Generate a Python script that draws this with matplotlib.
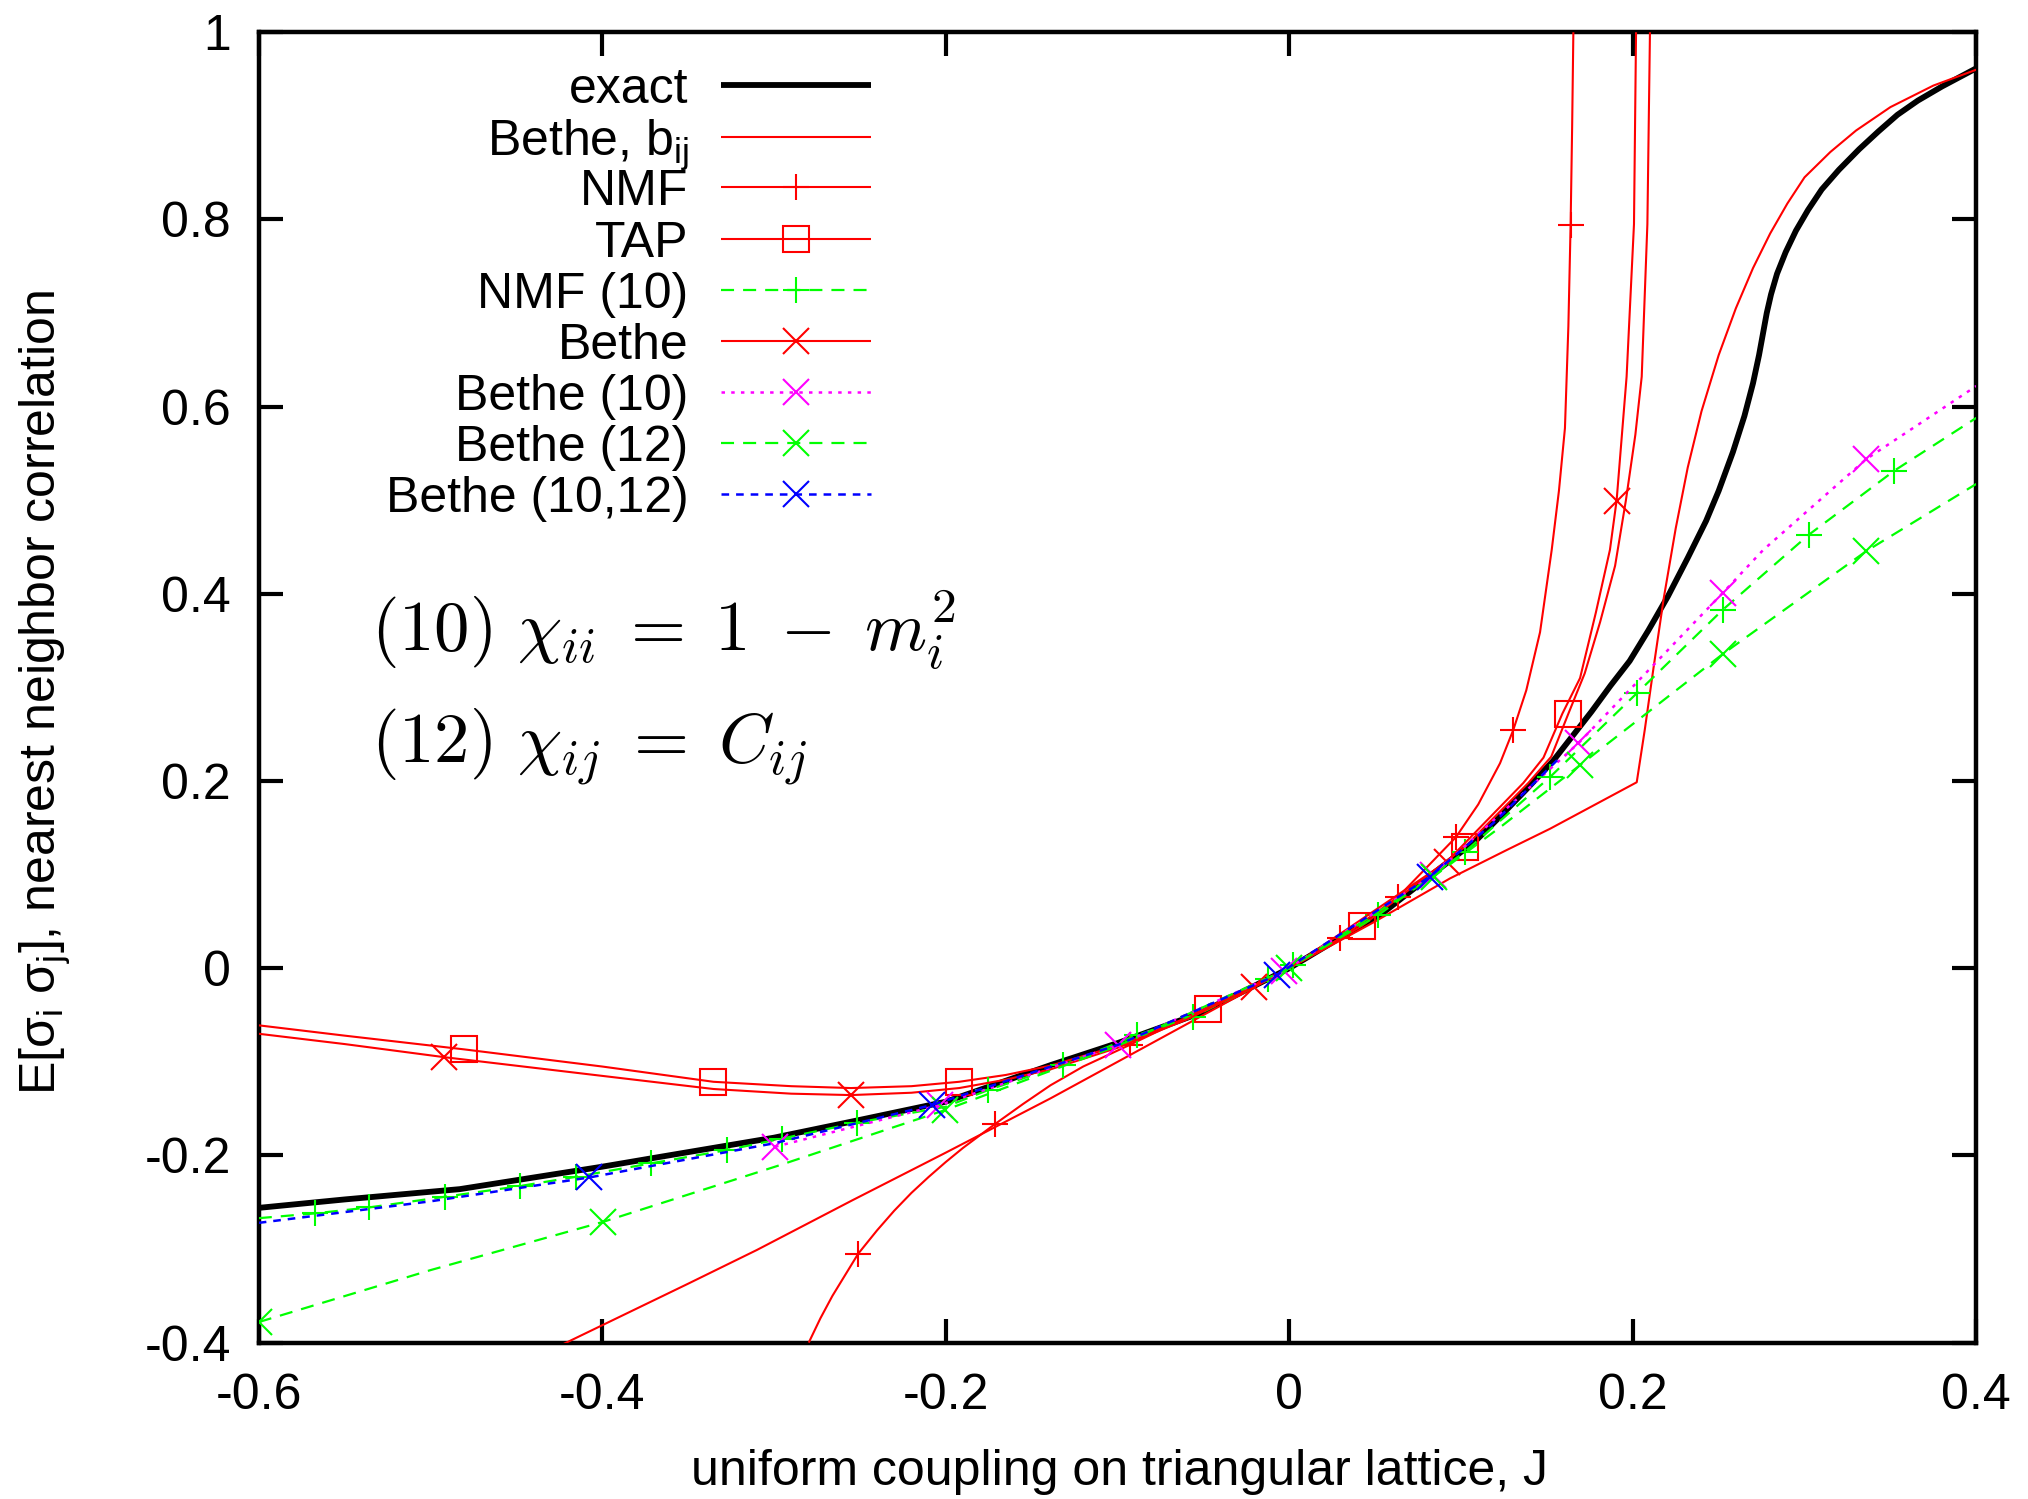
import matplotlib
matplotlib.use('Agg')
import matplotlib.pyplot as plt
from matplotlib.lines import Line2D

plt.rcParams['font.family'] = ['Liberation Sans', 'DejaVu Sans']
plt.rcParams['mathtext.fontset'] = 'custom'
plt.rcParams['mathtext.rm'] = 'Liberation Sans'
plt.rcParams['mathtext.it'] = 'Liberation Sans:italic'
plt.rcParams['mathtext.bf'] = 'Liberation Sans:bold'
plt.rcParams['lines.scale_dashes'] = False

# ---------------- data ----------------
exact_J = [-0.6, -0.55, -0.483, -0.4, -0.366, -0.3, -0.25, -0.2, -0.139, -0.1, -0.052, 0.0,
           0.029, 0.053, 0.084, 0.109, 0.1227, 0.138, 0.1536, 0.1759, 0.187, 0.1982, 0.209,
           0.2205, 0.232, 0.2427, 0.25, 0.2583, 0.265, 0.27, 0.2735, 0.276, 0.278, 0.2805,
           0.284, 0.289, 0.295, 0.302, 0.31, 0.32, 0.3318, 0.343, 0.3541, 0.366, 0.38, 0.4]
exact_C = [-0.256, -0.247, -0.236, -0.212, -0.2014, -0.181, -0.162, -0.1426, -0.1035, -0.080,
           -0.048, 0.0, 0.032, 0.057, 0.1014, 0.137, 0.162, 0.191, 0.2215, 0.274, 0.3018,
           0.3283, 0.3607, 0.3975, 0.4384, 0.478, 0.51, 0.5515, 0.59, 0.625, 0.655, 0.68,
           0.70, 0.72, 0.742, 0.765, 0.788, 0.81, 0.832, 0.853, 0.875, 0.894, 0.9118, 0.927,
           0.942, 0.9615]

bij_J = [-0.43, -0.35, -0.31, -0.2545, -0.2, -0.139, -0.1, -0.05, 0.0, 0.05, 0.0936, 0.1266,
         0.1518, 0.2023, 0.207, 0.212, 0.218, 0.225, 0.232, 0.24, 0.25, 0.26, 0.27, 0.28,
         0.29, 0.3, 0.315, 0.33, 0.35, 0.375, 0.4]
bij_C = [-0.408, -0.337, -0.301, -0.248, -0.197, -0.139, -0.100, -0.050, 0.0, 0.050, 0.096,
         0.1263, 0.149, 0.1987, 0.255, 0.32, 0.395, 0.47, 0.535, 0.595, 0.655, 0.705, 0.748,
         0.785, 0.817, 0.845, 0.872, 0.895, 0.92, 0.943, 0.96]

nmf_J = [-0.2798, -0.273, -0.266, -0.258, -0.251, -0.24, -0.23, -0.22, -0.21, -0.2, -0.19,
         -0.1714, -0.155, -0.139, -0.12, -0.093, -0.05, 0.0, 0.0296, 0.0635, 0.097, 0.11,
         0.1227, 0.1304, 0.138, 0.146, 0.1528, 0.157, 0.1605, 0.1625, 0.1638, 0.1647, 0.1654]
nmf_C = [-0.40, -0.374, -0.350, -0.326, -0.305, -0.280, -0.259, -0.240, -0.223, -0.207,
         -0.192, -0.1665, -0.145, -0.125, -0.105, -0.082, -0.044, 0.0, 0.032, 0.0764, 0.140,
         0.175, 0.219, 0.2545, 0.297, 0.359, 0.447, 0.51, 0.577, 0.686, 0.794, 0.9, 1.0]
nmf_mJ = [-0.251, -0.1714, -0.093, 0.0296, 0.0635, 0.097, 0.1304, 0.1638]
nmf_mC = [-0.305, -0.1665, -0.082, 0.032, 0.0764, 0.140, 0.2545, 0.794]

tap_J = [-0.6, -0.55, -0.4803, -0.4, -0.3353, -0.29, -0.2552, -0.22, -0.1922, -0.165, -0.139,
         -0.1, -0.0475, 0.0, 0.0422, 0.1023, 0.1392, 0.1525, 0.1625, 0.172, 0.181, 0.1897,
         0.196, 0.2015, 0.2052, 0.2085, 0.2100]
tap_C = [-0.061, -0.072, -0.0867, -0.105, -0.1213, -0.126, -0.128, -0.126, -0.1213, -0.114,
         -0.104, -0.083, -0.0439, 0.0, 0.0451, 0.1298, 0.198, 0.226, 0.272, 0.315, 0.37,
         0.43, 0.50, 0.57, 0.632, 0.795, 1.0]
tap_mJ = [-0.4803, -0.3353, -0.1922, -0.0475, 0.0422, 0.1023, 0.1625]
tap_mC = [-0.0867, -0.1213, -0.1213, -0.0439, 0.0451, 0.1298, 0.272]

nmf10_J = [-0.6, -0.5672, -0.5356, -0.4915, -0.4479, -0.4153, -0.3718, -0.3275, -0.2955,
           -0.2518, -0.2, -0.1752, -0.1316, -0.0888, -0.0559, -0.0122, 0.0023, 0.0518, 0.1023,
           0.152, 0.2023, 0.2524, 0.3024, 0.3523, 0.4]
nmf10_C = [-0.267, -0.2619, -0.2555, -0.2441, -0.2327, -0.2228, -0.2085, -0.1943, -0.182,
           -0.165, -0.148, -0.130, -0.1034, -0.0714, -0.0518, -0.012, 0.003, 0.0568, 0.1245,
           0.2046, 0.2937, 0.383, 0.463, 0.5316, 0.588]
nmf10_mJ = [-0.5672, -0.5356, -0.4915, -0.4479, -0.4153, -0.3718, -0.3275, -0.2955, -0.2518,
            -0.1752, -0.1316, -0.0888, -0.0559, -0.0122, 0.0023, 0.0518, 0.1023, 0.152,
            0.2023, 0.2524, 0.3024, 0.3523]
nmf10_mC = [-0.2619, -0.2555, -0.2441, -0.2327, -0.2228, -0.2085, -0.1943, -0.182, -0.165,
            -0.130, -0.1034, -0.0714, -0.0518, -0.012, 0.003, 0.0568, 0.1245, 0.2046, 0.2937,
            0.383, 0.463, 0.5316]

bethe_J = [-0.6, -0.55, -0.492, -0.4, -0.3353, -0.29, -0.2552, -0.22, -0.1922, -0.165, -0.139,
           -0.1, -0.06, -0.0207, 0.0, 0.0917, 0.1363, 0.148, 0.159, 0.1693, 0.1785, 0.1867,
           0.1906, 0.1964, 0.2007, 0.2019]
bethe_C = [-0.070, -0.081, -0.095, -0.115, -0.129, -0.134, -0.1355, -0.133, -0.128, -0.119,
           -0.108, -0.085, -0.055, -0.0198, 0.0, 0.1138, 0.198, 0.225, 0.272, 0.31, 0.38,
           0.447, 0.50, 0.632, 0.795, 1.0]
bethe_mJ = [-0.492, -0.2552, -0.0207, 0.0917, 0.1906]
bethe_mC = [-0.095, -0.1355, -0.0198, 0.1138, 0.4996]

b10_J = [-0.2994, -0.2033, -0.0995, -0.003, 0.0838, 0.1683, 0.2524, 0.276, 0.336, 0.4]
b10_C = [-0.1907, -0.146, -0.082, -0.003, 0.0996, 0.2403, 0.401, 0.447, 0.544, 0.622]
b10_mJ = [-0.2994, -0.2033, -0.0995, -0.003, 0.0838, 0.1683, 0.2524, 0.336]
b10_mC = [-0.1907, -0.146, -0.082, -0.003, 0.0996, 0.2403, 0.401, 0.544]

b12_J = [-0.6, -0.5, -0.3994, -0.296, -0.2004, -0.1, 0.0, 0.084, 0.1227, 0.1693, 0.2524,
         0.336, 0.4]
b12_C = [-0.378, -0.3225, -0.2709, -0.21, -0.1515, -0.083, 0.0, 0.098, 0.1505, 0.217, 0.3357,
         0.4457, 0.5174]
b12_mJ = [-0.6, -0.3994, -0.2004, 0.0, 0.084, 0.1693, 0.2524, 0.336]
b12_mC = [-0.378, -0.2709, -0.1515, 0.0, 0.098, 0.217, 0.3357, 0.4457]

b1012_J = [-0.6, -0.5, -0.4075, -0.3, -0.2082, -0.1, -0.0073, 0.0819, 0.12, 0.158]
b1012_C = [-0.272, -0.249, -0.2235, -0.187, -0.1462, -0.082, -0.0073, 0.0978, 0.157, 0.226]
b1012_mJ = [-0.4075, -0.2082, -0.0073, 0.0819]
b1012_mC = [-0.2235, -0.1462, -0.0073, 0.0978]

x_ticks = [-0.6, -0.4, -0.2, 0.0, 0.2, 0.4]
x_ticklabels = ['-0.6', '-0.4', '-0.2', '0', '0.2', '0.4']
y_ticks = [-0.4, -0.2, 0.0, 0.2, 0.4, 0.6, 0.8, 1.0]
y_ticklabels = ['-0.4', '-0.2', '0', '0.2', '0.4', '0.6', '0.8', '1']

labels = ['exact', r'Bethe, b$_{\mathrm{ij}}$', 'NMF', 'TAP', 'NMF (10)', 'Bethe',
          'Bethe (10)', 'Bethe (12)', 'Bethe (10,12)']

# ---------------- styling ----------------
RED = '#ff0000'
GREEN = '#00ff00'
MAG = '#ff00ff'
BLUE = '#0000ff'
GDASH = (0, (9.4, 6.5))
BDASH = (0, (5.5, 5.0))
MDOT = (0, (2.5, 4.5))

series = [
    (exact_J, exact_C, None, None, dict(color='black', lw=4.2, ls='-'), None),
    (bij_J, bij_C, None, None, dict(color=RED, lw=1.5, ls='-'), None),
    (nmf_J, nmf_C, nmf_mJ, nmf_mC, dict(color=RED, lw=1.5, ls='-'), '+'),
    (tap_J, tap_C, tap_mJ, tap_mC, dict(color=RED, lw=1.5, ls='-'), 's'),
    (nmf10_J, nmf10_C, nmf10_mJ, nmf10_mC, dict(color=GREEN, lw=1.6, ls=GDASH), '+'),
    (bethe_J, bethe_C, bethe_mJ, bethe_mC, dict(color=RED, lw=1.5, ls='-'), 'x'),
    (b10_J, b10_C, b10_mJ, b10_mC, dict(color=MAG, lw=1.8, ls=MDOT), 'x'),
    (b12_J, b12_C, b12_mJ, b12_mC, dict(color=GREEN, lw=1.6, ls=GDASH), 'x'),
    (b1012_J, b1012_C, b1012_mJ, b1012_mC, dict(color=BLUE, lw=1.8, ls=BDASH), 'x'),
]
msizes = {'+': 19, 'x': 19, 's': 19}

fig = plt.figure(figsize=(20.28, 14.99), dpi=100)
ax = fig.add_axes([0.1276, 0.1043, 0.8469, 0.8742])

for i, (J, C, mJ, mC, st, mk) in enumerate(series):
    ax.plot(J, C, zorder=2 + i, solid_capstyle='butt', solid_joinstyle='round', **st)
    if mk is not None:
        ax.plot(mJ, mC, ls='none', marker=mk, ms=msizes[mk], mew=1.5,
                mfc='none', mec=st['color'], zorder=2 + i)

ax.set_xlim(-0.6, 0.4)
ax.set_ylim(-0.4, 1.0)
ax.set_xticks(x_ticks)
ax.set_xticklabels(x_ticklabels)
ax.set_yticks(y_ticks)
ax.set_yticklabels(y_ticklabels)
ax.tick_params(axis='both', direction='in', length=17, width=3, top=True, right=True,
               labelsize=36, colors='black')
ax.tick_params(axis='x', pad=22)
ax.tick_params(axis='y', pad=20)
for sp in ax.spines.values():
    sp.set_linewidth(3.2)

ax.set_xlabel('uniform coupling on triangular lattice, J', fontsize=36, va='center')
ax.xaxis.set_label_coords(0.501, -0.0988)
ax.set_ylabel(r'E[σ$_{\mathrm{i}}$ σ$_{\mathrm{j}}$], nearest neighbor correlation',
              fontsize=36, va='center')
ax.yaxis.set_label_coords(-0.1244, 0.4965)

# ---------------- manual legend (text right, sample left of it) ----------------
row_y = [0.9598, 0.9203, 0.8817, 0.8425, 0.8033, 0.7644, 0.7257, 0.6863, 0.6474]
x_text = 0.2503
x0, x1, xm = 0.2694, 0.3567, 0.3126
for i, (J, C, mJ, mC, st, mk) in enumerate(series):
    y = row_y[i]
    ax.text(x_text, y, labels[i], transform=ax.transAxes, ha='right',
            va='center_baseline', fontsize=36, zorder=20)
    ax.add_line(Line2D([x0, x1], [y, y], transform=ax.transAxes, zorder=20,
                       solid_capstyle='butt', **st))
    if mk is not None:
        ax.add_line(Line2D([xm], [y], transform=ax.transAxes, ls='none', marker=mk,
                           ms=msizes[mk], mew=1.5, mfc='none', mec=st['color'], zorder=20))

# ---------------- annotations ----------------
ax.text(0.0654, 0.5438, r'$(10)\ \chi_{ii}\;=\;1\;-\;m_i^2$', transform=ax.transAxes,
        fontsize=51, math_fontfamily='cm', ha='left', va='center')
ax.text(0.0654, 0.4541, r'$(12)\ \chi_{ij}\;=\;C_{ij}$', transform=ax.transAxes,
        fontsize=51, math_fontfamily='cm', ha='left', va='center')

fig.savefig('out.png', dpi=100)
